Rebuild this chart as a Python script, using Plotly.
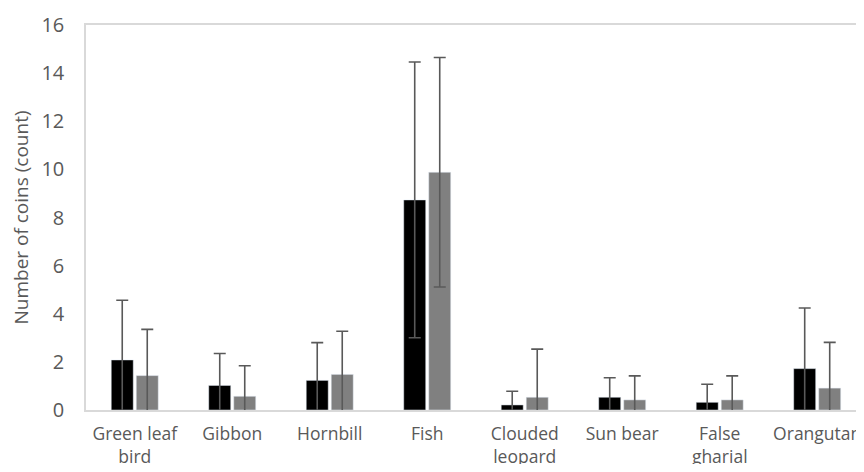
import plotly.graph_objects as go

categories = ["Green leaf<br>bird", "Gibbon", "Hornbill", "Fish", "Clouded<br>leopard",
              "Sun bear", "False<br>gharial", "Orangutan"]
series_a = [2.08, 1.02, 1.23, 8.73, 0.21, 0.53, 0.32, 1.72]
err_a = [2.48, 1.33, 1.57, 5.73, 0.57, 0.81, 0.75, 2.52]
series_b = [1.43, 0.57, 1.48, 9.88, 0.53, 0.42, 0.42, 0.91]
err_b = [1.92, 1.27, 1.79, 4.77, 2.00, 1.00, 1.00, 1.90]
y_ticks = [0, 2, 4, 6, 8, 10, 12, 14, 16]

err_style = dict(type="data", symmetric=True, color="#595959", thickness=1.6, width=6)

fig = go.Figure()
fig.add_trace(go.Bar(x=categories, y=series_a, marker_color="#000000",
                     error_y=dict(array=err_a, **err_style), showlegend=False))
fig.add_trace(go.Bar(x=categories, y=series_b, marker_color="#808080",
                     error_y=dict(array=err_b, **err_style), showlegend=False))

fig.update_layout(
    width=856, height=456,
    margin=dict(l=78, r=0, t=17, b=54),
    paper_bgcolor="white", plot_bgcolor="white",
    barmode="group", bargap=0.487, bargroupgap=0.12,
    font=dict(family="Open Sans", color="#595959", size=15),
    xaxis=dict(range=[-0.5, 7.48], showline=True, linecolor="#d9d9d9", linewidth=1.5,
               mirror=True, showgrid=False, ticks="", tickfont=dict(size=17.5),
               ticklabelstandoff=7, automargin=False),
    yaxis=dict(range=[0, 16], tickvals=y_ticks, showline=True, linecolor="#d9d9d9",
               linewidth=1.5, mirror=False, showgrid=False, zeroline=False, ticks="",
               tickfont=dict(size=20), ticklabelstandoff=16, automargin=False,
               title=dict(text="Number of coins (count)", font=dict(size=19), standoff=14)),
)

fig.write_html("out.html")
